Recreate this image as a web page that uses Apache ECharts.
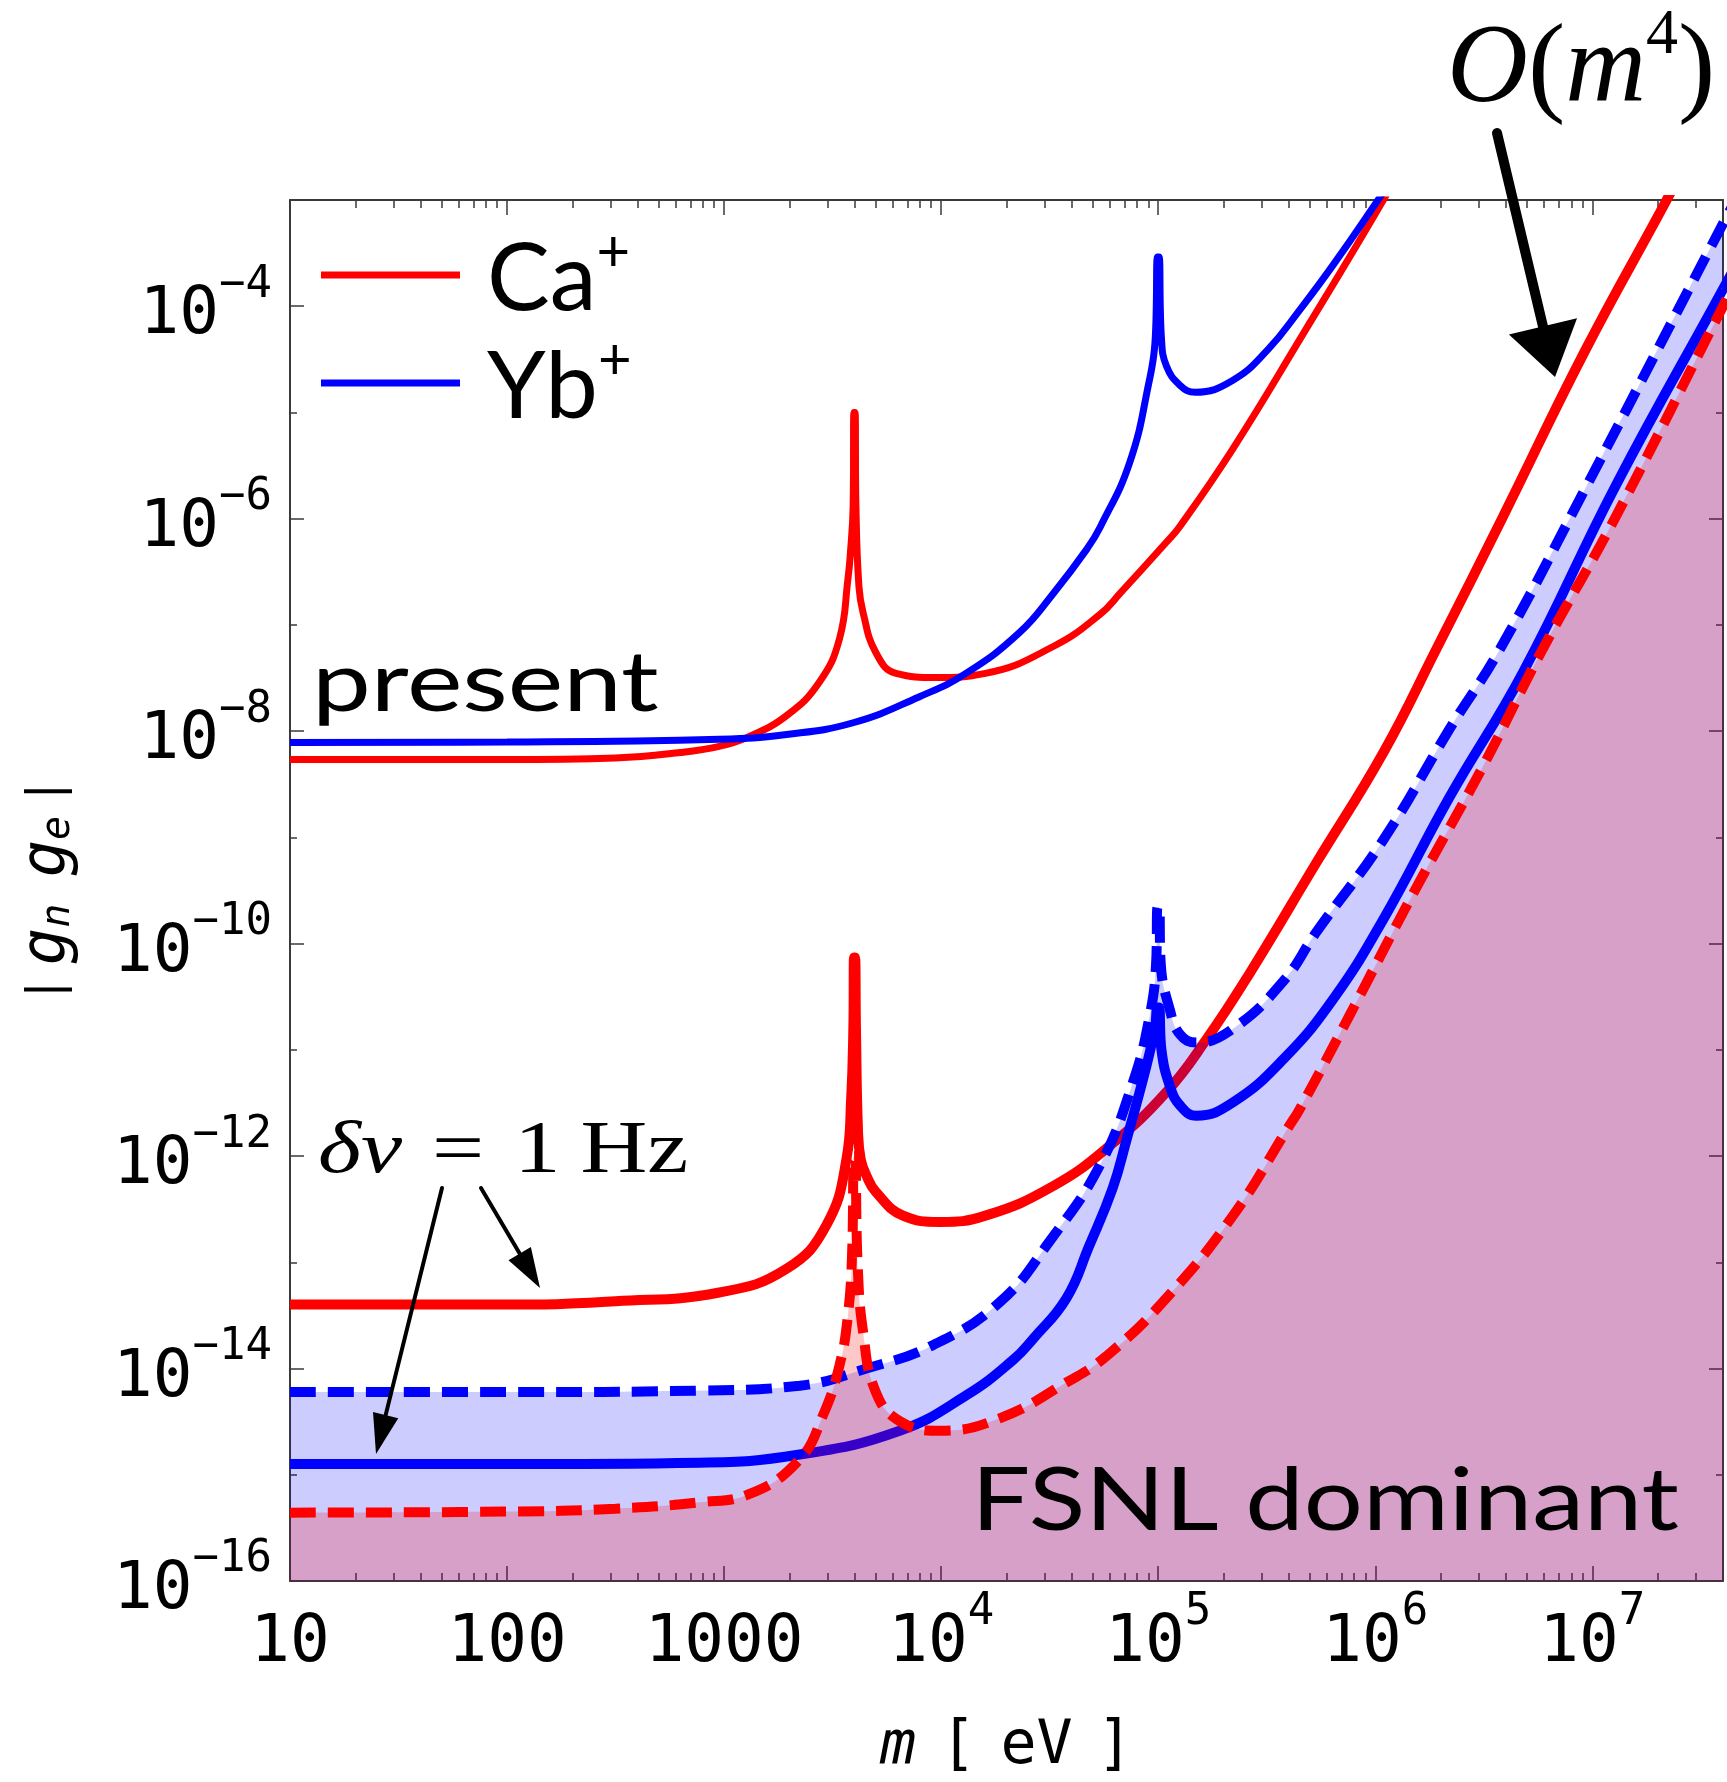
<!DOCTYPE html>
<html>
<head>
<meta charset="utf-8">
<title>|g_n g_e| vs m</title>
<script src="https://cdn.jsdelivr.net/npm/echarts@6.0.0/dist/echarts.min.js"></script>
<style>
  html, body { margin: 0; padding: 0; background: #fff; }
  #main { width: 1727px; height: 1782px; }
</style>
</head>
<body>
<div id="main"></div>
<script>
// values: [m in eV, |g_n g_e|]
var caPresent = [
  [10, 5.4e-9], [100, 5.4e-9], [316, 5.6e-9], [630, 6.3e-9], [950, 7.2e-9], [1270, 8.7e-9],
  [1940, 1.4e-8], [2750, 2.9e-8], [3400, 7.4e-8], [3720, 2.7e-7], [3820, 4.8e-7], [3930, 1.3e-6],
  [3965, 1e-5], [4010, 1e-5], [4050, 1.3e-6], [4180, 2.3e-7], [4370, 1.3e-7], [5000, 5.5e-8],
  [6200, 3.5e-8], [9500, 3.2e-8], [16000, 3.5e-8], [33000, 6.3e-8], [54000, 1.26e-7],
  [67000, 2e-7], [1.09e5, 6e-7], [1.26e5, 8.5e-7], [2.2e5, 4.5e-6], [4.5e5, 4.9e-5],
  [1.09e6, 1e-3], [1.3e6, 2e-3]
];
var ybPresent = [
  [10, 7.8e-9], [100, 7.9e-9], [950, 8.4e-9], [1940, 9.3e-9], [3930, 1.2e-8], [7900, 2.1e-8],
  [13000, 3.5e-8], [23000, 8.5e-8], [33000, 2e-7], [47000, 5.2e-7], [54000, 8.3e-7], [74000, 3.4e-6],
  [91000, 2e-5], [96600, 4.5e-5], [99300, 2.9e-4], [1.009e5, 2.9e-4], [1.035e5, 5e-5],
  [1.09e5, 2.75e-5], [1.26e5, 1.8e-5], [1.48e5, 1.55e-5], [2.2e5, 2e-5], [3.2e5, 3.9e-5],
  [4.5e5, 9.3e-5], [6.4e5, 2.45e-4], [1.03e6, 1e-3], [1.2e6, 1.6e-3]
];
var caSolid = [
  [10, 4e-14], [100, 4e-14], [316, 4.3e-14], [950, 5.2e-14], [1940, 8.7e-14], [2960, 2.24e-13],
  [3660, 9.3e-13], [3850, 3.5e-12], [3940, 1.6e-11], [3970, 7.4e-11], [4010, 7.4e-11],
  [4050, 1.6e-11], [4140, 1.7e-12], [4260, 9.3e-13], [4520, 6.6e-13], [5000, 4.6e-13],
  [6670, 2.75e-13], [9840, 2.4e-13], [16000, 2.75e-13], [32700, 5.2e-13], [60000, 1.26e-12],
  [1.09e5, 4e-12], [1.67e5, 1.26e-11], [2.63e5, 5.2e-11], [5.36e5, 5.8e-10], [1.09e6, 6.3e-9],
  [1.91e6, 5.9e-8], [3.88e6, 1.05e-6], [9.25e6, 3.8e-5], [2.2e7, 1e-3], [2.8e7, 2.6e-3]
];
var ybSolid = [
  [10, 1.26e-15], [100, 1.26e-15], [770, 1.3e-15], [2230, 1.55e-15], [6440, 2.6e-15],
  [13060, 5.6e-15], [21400, 1.2e-14], [26500, 1.9e-14], [37800, 4.6e-14], [47900, 1.4e-13],
  [61700, 5e-13], [71300, 1.4e-12], [88300, 7.1e-12], [96600, 1.6e-11], [99300, 2.5e-11],
  [1.009e5, 2.5e-11], [1.035e5, 1e-11], [1.13e5, 4.6e-12], [1.26e5, 3e-12], [1.5e5, 2.4e-12],
  [2.21e5, 3.2e-12], [3.76e5, 8.1e-12], [6.4e5, 3e-11], [1.09e6, 1.7e-10], [2.2e6, 2.4e-9],
  [4.8e6, 3.6e-8], [1.29e7, 2.1e-6], [4e7, 1.45e-4], [5e7, 3.4e-4]
];
var ybDashed = [
  [10, 6e-15], [100, 6e-15], [770, 6.2e-15], [2230, 6.9e-15], [4520, 1e-14], [9160, 1.66e-14],
  [18600, 4.2e-14], [31600, 1.58e-13], [53700, 8.1e-13], [76600, 5e-12], [91400, 2.1e-11],
  [97700, 6.3e-11], [99300, 2.2e-10], [1.009e5, 2.2e-10], [1.028e5, 6.3e-11], [1.13e5, 2.4e-11],
  [1.26e5, 1.4e-11], [1.5e5, 1.17e-11], [2.21e5, 1.58e-11], [3.76e5, 4.4e-11], [5.36e5, 1.29e-10],
  [1.09e6, 9.5e-10], [2.2e6, 1.05e-8], [3.75e6, 5.9e-8], [9.25e6, 1.9e-6], [4e7, 6e-4], [5e7, 1.4e-3]
];
var caDashed = [
  [10, 4.4e-16], [100, 4.5e-16], [316, 4.8e-16], [770, 5.5e-16], [1310, 6.6e-16], [2230, 1.4e-15],
  [2850, 3.6e-15], [3400, 1.07e-14], [3720, 3.2e-14], [3890, 1.26e-13], [3960, 1e-12],
  [4010, 1e-12], [4120, 1e-13], [4370, 2.2e-14], [5000, 6e-15], [6440, 3.2e-15], [9840, 2.6e-15],
  [18600, 3.4e-15], [37800, 7.4e-15], [57500, 1.3e-14], [1.09e5, 4.6e-14], [2.21e5, 2.75e-13],
  [4e5, 1.9e-12], [4.5e5, 2.8e-12], [7.6e5, 2.1e-11], [1.5e6, 3e-10], [3.14e6, 4.7e-9],
  [5.9e6, 5.9e-8], [1.29e7, 1.07e-6], [4e7, 1e-4], [5e7, 2.4e-4]
];

var xTickExp = [1, 2, 3, 4, 5, 6, 7];
var xTickLabels = ['10', '100', '1000', '10^4', '10^5', '10^6', '10^7'];
var yTickExp = [-16, -14, -12, -10, -8, -6, -4];
var yTickLabels = ['10^-16', '10^-14', '10^-12', '10^-10', '10^-8', '10^-6', '10^-4'];

var xMin = 10, xMax = 4e7, yMin = 1e-16, yMax = 1e-3;
var xMinExp = Math.log10(xMin), xMaxExp = Math.log10(xMax);
var yMinExp = Math.log10(yMin), yMaxExp = Math.log10(yMax);

var RED = '#ff0000', BLUE = '#0000ff', FRAME = '#3a3a3a';
var MONO = "'DejaVu Sans Mono', monospace";
var SANS = "Lato, 'Open Sans', sans-serif";
var SERIF = "'Liberation Serif', 'DejaVu Serif', serif";

// minor ticks of the log x axis (2..9 in every decade)
var xMinor = [];
for (var d = 1; d <= 7; d++) {
  for (var k = 2; k <= 9; k++) {
    var v = Math.log10(k * Math.pow(10, d));
    if (v < xMaxExp) xMinor.push(v);
  }
}

function toRich(s) {
  var p = s.split('^');
  if (p.length === 1) return '{b|' + s + '}';
  return '{b|' + p[0] + '}{s|' + p[1].replace('-', '\u2212') + '}';
}

var tickRich = {
  b: { fontFamily: MONO, fontSize: 66, lineHeight: 86, verticalAlign: 'bottom', color: '#000' },
  s: { fontFamily: MONO, fontSize: 44, lineHeight: 44, verticalAlign: 'top', color: '#000' }
};

function xLabel(v) {
  var i = xTickExp.indexOf(Math.round(v));
  if (i < 0 || Math.abs(v - Math.round(v)) > 1e-6) return '';
  return toRich(xTickLabels[i]);
}
function yLabel(v) {
  var i = yTickExp.indexOf(Math.round(v));
  if (i < 0 || Math.abs(v - Math.round(v)) > 1e-6) return '';
  return toRich(yTickLabels[i]);
}

function expAxis(dim, pos, opts) {
  var a = {
    type: 'value',
    position: pos,
    min: dim === 'x' ? xMinExp : yMinExp,
    max: dim === 'x' ? xMaxExp : yMaxExp,
    axisLine: { show: !!opts.line, onZero: false, lineStyle: { color: FRAME, width: 2 } },
    axisTick: { show: true, inside: true, length: opts.tick, lineStyle: { color: FRAME, width: 1.5 } },
    axisLabel: { show: false },
    splitLine: { show: false },
    silent: true
  };
  if (opts.interval) a.interval = opts.interval;
  if (opts.custom) a.axisTick.customValues = opts.custom;
  if (opts.labels) {
    a.axisLabel = { show: true, formatter: opts.labels, margin: opts.margin, rich: tickRich,
                    showMinLabel: true, showMaxLabel: true };
  }
  return a;
}

function curve(name, data, color, width, dashed, z) {
  return {
    name: name, type: 'line', data: data, xAxisIndex: 0, yAxisIndex: 0,
    symbol: 'none', showSymbol: false, silent: true, z: z, smooth: 0.45,
    itemStyle: { color: color },
    lineStyle: { color: color, width: width, type: dashed ? [26, 12] : 'solid', cap: 'butt', join: 'bevel' }
  };
}
function fill(name, data, color, z) {
  return {
    name: name, type: 'line', data: data, xAxisIndex: 0, yAxisIndex: 0,
    symbol: 'none', showSymbol: false, silent: true, z: z, smooth: 0.45,
    itemStyle: { color: color },
    lineStyle: { width: 0 },
    areaStyle: { color: color, opacity: 1, origin: 'start' }
  };
}

function arrow(x1, y1, x2, y2, w, hl, hw) {
  var dx = x2 - x1, dy = y2 - y1, L = Math.sqrt(dx * dx + dy * dy);
  var ux = dx / L, uy = dy / L, nx = -uy, ny = ux;
  var bx = x2 - ux * hl, by = y2 - uy * hl;
  return [
    { type: 'line', z: 100, silent: true,
      shape: { x1: x1, y1: y1, x2: bx + ux * 2, y2: by + uy * 2 },
      style: { stroke: '#000', lineWidth: w, lineCap: 'round' } },
    { type: 'polygon', z: 100, silent: true,
      shape: { points: [[x2, y2], [bx + nx * hw / 2, by + ny * hw / 2], [bx - nx * hw / 2, by - ny * hw / 2]] },
      style: { fill: '#000' } }
  ];
}

var chart = echarts.init(document.getElementById('main'), null, { renderer: 'canvas' });

var graphics = [
  { type: 'text', z: 100, silent: true, x: 312, y: 684, scaleX: 1.25,
    style: { text: 'present', font: '400 84px ' + SANS, fill: '#000', align: 'left', verticalAlign: 'middle' } },
  { type: 'text', z: 100, silent: true, x: 1679, y: 1502, scaleX: 1.2,
    style: { text: 'FSNL dominant', font: '400 87px ' + SANS, fill: '#000', align: 'right', verticalAlign: 'middle' } },
  { type: 'text', z: 100, silent: true, x: 318, y: 1153, scaleX: 1.25,
    style: {
      text: '{d|\u03b4\u03bd}{e|=}{n|1}{h|Hz}', align: 'left', verticalAlign: 'middle',
      rich: {
        d: { fontFamily: SERIF, fontStyle: 'italic', fontSize: 74, fill: '#000' },
        e: { fontFamily: SERIF, fontSize: 74, fill: '#000', padding: [0, 24, 0, 24] },
        n: { fontFamily: SERIF, fontSize: 74, fill: '#000', padding: [0, 16, 0, 0] },
        h: { fontFamily: SERIF, fontSize: 74, fill: '#000' }
      }
    } },
  { type: 'text', z: 100, silent: true, x: 1447, y: 66,
    style: {
      text: '{i|O}{r|(}{i|m}{s|4}{r|)}', align: 'left', verticalAlign: 'middle',
      rich: {
        i: { fontFamily: SERIF, fontStyle: 'italic', fontSize: 112, lineHeight: 124, verticalAlign: 'bottom', fill: '#000' },
        r: { fontFamily: SERIF, fontSize: 112, lineHeight: 124, verticalAlign: 'bottom', fill: '#000' },
        s: { fontFamily: SERIF, fontSize: 64, lineHeight: 72, verticalAlign: 'top', fill: '#000' }
      }
    } }
];
graphics = graphics
  .concat(arrow(1497, 133, 1555, 377, 10, 52, 70))
  .concat(arrow(442, 1188, 376, 1454, 4, 40, 26))
  .concat(arrow(481, 1188, 540, 1288, 4, 40, 26));

var option = {
  animation: false,
  backgroundColor: '#ffffff',
  grid: { left: 290, right: 4, top: 200, bottom: 199, containLabel: false },
  legend: {
    data: [{ name: 'Ca\u207a', icon: 'rect' }, { name: 'Yb\u207a', icon: 'rect' }],
    orient: 'vertical', left: 316, top: 218,
    itemWidth: 139, itemHeight: 7, itemGap: 4,
    selectedMode: false,
    itemStyle: { borderWidth: 0 },
    formatter: function (name) { return name === 'Ca\u207a' ? '{n|Ca}{p|+}' : '{n|Yb}{p|+}'; },
    textStyle: {
      rich: {
        n: { fontFamily: SANS, fontSize: 94, lineHeight: 104, verticalAlign: 'bottom', color: '#000', padding: [0, 0, 0, 22] },
        p: { fontFamily: SANS, fontSize: 58, lineHeight: 58, verticalAlign: 'top', color: '#000' }
      }
    }
  },
  xAxis: [
    { type: 'log', min: xMin, max: xMax, show: false, position: 'bottom' },
    (function () {
      var a = expAxis('x', 'bottom', { line: true, tick: 15, interval: 1, labels: xLabel, margin: 10 });
      a.name = '{i|m}{g| }{b|[}{g| }{b|eV}{g| }{b|]}';
      a.nameLocation = 'middle';
      a.nameGap = 136;
      a.nameTextStyle = { rich: {
        i: { fontFamily: MONO, fontStyle: 'italic', fontSize: 60, color: '#000' },
        b: { fontFamily: MONO, fontSize: 60, color: '#000' },
        g: { fontFamily: MONO, fontSize: 40, color: '#000' }
      } };
      return a;
    })(),
    expAxis('x', 'top', { line: true, tick: 15, interval: 1 }),
    expAxis('x', 'bottom', { tick: 8, custom: xMinor }),
    expAxis('x', 'top', { tick: 8, custom: xMinor })
  ],
  yAxis: [
    { type: 'log', min: yMin, max: yMax, show: false, position: 'left' },
    (function () {
      var a = expAxis('y', 'left', { line: true, tick: 14, interval: 2, labels: yLabel, margin: 18 });
      a.name = '{b||}{g|g}{t|n}{sp| }{g|g}{t|e}{b||}';
      a.nameLocation = 'middle';
      a.nameGap = 210;
      a.nameTextStyle = { rich: {
        g: { fontFamily: MONO, fontStyle: 'italic', fontSize: 62, color: '#000' },
        t: { fontFamily: MONO, fontStyle: 'italic', fontSize: 40, color: '#000', padding: [20, 0, 0, 0] },
        sp: { fontFamily: MONO, fontSize: 44, color: '#000' },
        b: { fontFamily: MONO, fontSize: 48, color: '#000', padding: [0, 10, 0, 10] }
      } };
      return a;
    })(),
    expAxis('y', 'right', { line: true, tick: 14, interval: 2 }),
    expAxis('y', 'left', { tick: 7, interval: 1 }),
    expAxis('y', 'right', { tick: 7, interval: 1 })
  ],
  series: [
    curve('Ca\u207a', caPresent, RED, 7, false, 2),
    curve('Yb\u207a', ybPresent, BLUE, 7, false, 2),
    curve('Ca\u207a', caSolid, RED, 10, false, 2),
    curve('Yb\u207a', ybSolid, BLUE, 10, false, 2),
    fill('Yb\u207a', ybDashed, 'rgba(0,0,255,0.2)', 3),
    fill('Ca\u207a', caDashed, 'rgba(255,0,0,0.216)', 3),
    curve('Yb\u207a', ybDashed, BLUE, 10, true, 4),
    curve('Ca\u207a', caDashed, RED, 10, true, 4)
  ],
  graphic: graphics
};

chart.setOption(option);
</script>
</body>
</html>
